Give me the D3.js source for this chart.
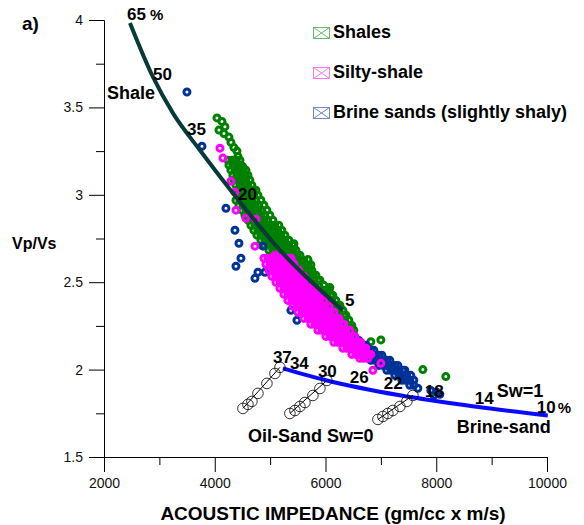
<!DOCTYPE html>
<html>
<head>
<meta charset="utf-8">
<script src="https://cdn.jsdelivr.net/npm/d3@7"></script>
<style>
  body { margin: 0; background: #fff; }
  text { font-family: "Liberation Sans", Arial, Helvetica, sans-serif; }
</style>
</head>
<body>
<div id="chart"></div>
<script>
// series: [acoustic impedance, Vp/Vs]
var shales = [
  [4040,3.44],[4130,3.42],[4184,3.39],[4076,3.37],[4166,3.35],[4256,3.33],[4292,3.30],[4346,3.27],
  [4401,3.25],[4419,3.22],[4509,3.16],
  [4238,3.198],[4310,3.198],[4382,3.198],[4455,3.198],
  [4256,3.170],[4328,3.170],[4400,3.170],[4472,3.170],
  [4292,3.141],[4364,3.141],[4436,3.141],[4508,3.141],[4563,3.141],
  [4328,3.112],[4400,3.112],[4472,3.112],[4544,3.112],[4599,3.112],
  [4346,3.084],[4418,3.084],[4490,3.084],[4562,3.084],[4634,3.084],
  [4382,3.055],[4454,3.055],[4526,3.055],[4598,3.055],[4670,3.055],
  [4400,3.026],[4472,3.026],[4544,3.026],[4616,3.026],[4688,3.026],[4744,3.026],
  [4419,2.998],[4491,2.998],[4563,2.998],[4635,2.998],[4707,2.998],[4780,2.998],
  [4383,2.969],[4455,2.969],[4527,2.969],[4599,2.969],[4671,2.969],[4743,2.969],[4834,2.969],
  [4437,2.940],[4509,2.940],[4581,2.940],[4653,2.940],[4725,2.940],[4797,2.940],[4888,2.940],
  [4491,2.912],[4563,2.912],[4635,2.912],[4707,2.912],[4779,2.912],[4851,2.912],[4942,2.912],
  [4545,2.883],[4617,2.883],[4689,2.883],[4761,2.883],[4833,2.883],[4905,2.883],[4996,2.883],
  [4599,2.855],[4671,2.855],[4743,2.855],[4815,2.855],[4887,2.855],[4959,2.855],[5050,2.855],
  [4653,2.826],[4725,2.826],[4797,2.826],[4869,2.826],[4941,2.826],[5013,2.826],[5085,2.826],[5157,2.826],
  [4707,2.797],[4779,2.797],[4851,2.797],[4923,2.797],[4995,2.797],[5067,2.797],[5139,2.797],[5211,2.797],
  [4762,2.769],[4834,2.769],[4906,2.769],[4978,2.769],[5050,2.769],[5122,2.769],[5194,2.769],[5266,2.769],
  [4834,2.740],[4906,2.740],[4978,2.740],[5050,2.740],[5122,2.740],[5194,2.740],[5266,2.740],[5338,2.740],
  [4906,2.711],[4978,2.711],[5050,2.711],[5122,2.711],[5194,2.711],[5266,2.711],[5338,2.711],[5410,2.711],
  [4978,2.683],[5050,2.683],[5122,2.683],[5194,2.683],[5266,2.683],[5338,2.683],[5410,2.683],[5466,2.683],
  [5050,2.654],[5122,2.654],[5194,2.654],[5266,2.654],[5338,2.654],[5410,2.654],[5482,2.654],[5538,2.654],
  [5123,2.626],[5195,2.626],[5267,2.626],[5339,2.626],[5411,2.626],[5483,2.626],[5555,2.626],[5610,2.626],
  [5195,2.597],[5267,2.597],[5339,2.597],[5411,2.597],[5483,2.597],[5555,2.597],[5627,2.597],[5682,2.597],
  [5267,2.568],[5339,2.568],[5411,2.568],[5483,2.568],[5555,2.568],[5627,2.568],[5699,2.568],[5754,2.568],
  [5339,2.540],[5411,2.540],[5483,2.540],[5555,2.540],[5627,2.540],[5699,2.540],[5771,2.540],[5827,2.540],
  [5430,2.511],[5502,2.511],[5574,2.511],[5646,2.511],[5718,2.511],[5790,2.511],[5862,2.511],[5899,2.511],
  [5520,2.482],[5592,2.482],[5664,2.482],[5736,2.482],[5808,2.482],[5880,2.482],[5971,2.482],
  [5628,2.454],[5700,2.454],[5772,2.454],[5844,2.454],[5916,2.454],[5988,2.454],[6061,2.454],
  [5736,2.425],[5808,2.425],[5880,2.425],[5952,2.425],[6024,2.425],[6096,2.425],[6133,2.425],
  [5827,2.396],[5899,2.396],[5971,2.396],[6043,2.396],[6115,2.396],[6187,2.396],
  [5935,2.368],[6007,2.368],[6079,2.368],[6151,2.368],[6223,2.368],[6260,2.368],
  [6025,2.339],[6097,2.339],[6169,2.339],[6241,2.339],[6314,2.339],
  [6115,2.311],[6187,2.311],[6259,2.311],[6331,2.311],[6368,2.311],
  [6206,2.282],[6278,2.282],[6350,2.282],[6422,2.282],
  [6296,2.253],[6368,2.253],[6440,2.253],[6476,2.253],
  [6386,2.225],[6458,2.225],[6512,2.225],
  [5430,2.72],[5682,2.63],[5736,2.60],[6079,2.47],[6224,2.27],[6404,2.25],
  [6819,2.16],[7000,2.17],[7758,2.00],[8173,1.96]
];

var brineSands = [
  [3498,3.588],[3769,3.278],[4202,2.923],[4365,2.797],[4437,2.723],[4473,2.637],[4383,2.591],
  [4726,2.522],[4780,2.557],[4906,2.557],[4870,2.706],[5375,2.339],[5484,2.282],
  [6115,2.196],[6188,2.196],[6260,2.196],[6332,2.196],[6404,2.196],[6458,2.196],
  [6260,2.167],[6332,2.167],[6404,2.167],[6476,2.167],[6548,2.167],[6603,2.167],
  [6404,2.139],[6476,2.139],[6548,2.139],[6620,2.139],[6692,2.139],[6729,2.139],
  [6531,2.110],[6603,2.110],[6675,2.110],[6747,2.110],[6819,2.110],[6874,2.110],
  [6675,2.082],[6747,2.082],[6819,2.082],[6891,2.082],[6963,2.082],[7018,2.082],
  [6819,2.053],[6891,2.053],[6963,2.053],[7035,2.053],[7107,2.053],[7162,2.053],
  [6964,2.024],[7036,2.024],[7108,2.024],[7180,2.024],[7252,2.024],[7307,2.024],
  [7108,1.996],[7180,1.996],[7252,1.996],[7324,1.996],[7396,1.996],[7433,1.996],
  [7253,1.967],[7325,1.967],[7397,1.967],[7469,1.967],[7541,1.967],
  [7379,1.939],[7451,1.939],[7523,1.939],[7595,1.939],
  [7523,1.910],[7595,1.910],
  [7668,1.893],
  [7902,1.881],[8011,1.870],[7957,1.853],[8065,1.859]
];

var siltyShale = [
  [4094,3.267],[4148,3.21],[4292,3.078],[4365,3.015],[4383,2.912],[4563,2.866],[4744,2.86],
  [4726,2.706],[5087,2.654],[5411,2.61],
  [4888,2.637],[4960,2.637],[5032,2.637],[5104,2.637],[5176,2.637],[5248,2.637],[5320,2.637],[5375,2.637],
  [4924,2.603],[4996,2.603],[5068,2.603],[5140,2.603],[5212,2.603],[5284,2.603],[5356,2.603],[5430,2.603],
  [4978,2.568],[5050,2.568],[5122,2.568],[5194,2.568],[5266,2.568],[5338,2.568],[5410,2.568],[5482,2.568],[5520,2.568],
  [5032,2.534],[5104,2.534],[5176,2.534],[5248,2.534],[5320,2.534],[5392,2.534],[5464,2.534],[5536,2.534],[5610,2.534],
  [5105,2.500],[5177,2.500],[5249,2.500],[5321,2.500],[5393,2.500],[5465,2.500],[5537,2.500],[5609,2.500],[5682,2.500],
  [5177,2.465],[5249,2.465],[5321,2.465],[5393,2.465],[5465,2.465],[5537,2.465],[5609,2.465],[5681,2.465],[5754,2.465],[5791,2.465],
  [5249,2.431],[5321,2.431],[5393,2.431],[5465,2.431],[5537,2.431],[5609,2.431],[5681,2.431],[5753,2.431],[5825,2.431],[5881,2.431],
  [5321,2.396],[5393,2.396],[5465,2.396],[5537,2.396],[5609,2.396],[5681,2.396],[5753,2.396],[5825,2.396],[5897,2.396],[5971,2.396],
  [5411,2.362],[5483,2.362],[5555,2.362],[5627,2.362],[5699,2.362],[5771,2.362],[5843,2.362],[5915,2.362],[5987,2.362],[6061,2.362],
  [5502,2.328],[5574,2.328],[5646,2.328],[5718,2.328],[5790,2.328],[5862,2.328],[5934,2.328],[6006,2.328],[6078,2.328],[6151,2.328],
  [5610,2.293],[5682,2.293],[5754,2.293],[5826,2.293],[5898,2.293],[5970,2.293],[6042,2.293],[6114,2.293],[6186,2.293],[6242,2.293],
  [5736,2.259],[5808,2.259],[5880,2.259],[5952,2.259],[6024,2.259],[6096,2.259],[6168,2.259],[6240,2.259],[6312,2.259],[6332,2.259],
  [5863,2.225],[5935,2.225],[6007,2.225],[6079,2.225],[6151,2.225],[6223,2.225],[6295,2.225],[6367,2.225],[6440,2.225],
  [6007,2.190],[6079,2.190],[6151,2.190],[6223,2.190],[6295,2.190],[6367,2.190],[6439,2.190],[6511,2.190],[6531,2.190],
  [6151,2.156],[6223,2.156],[6295,2.156],[6367,2.156],[6439,2.156],[6511,2.156],[6583,2.156],[6639,2.156],
  [6314,2.122],[6386,2.122],[6458,2.122],[6530,2.122],[6602,2.122],[6674,2.122],[6729,2.122],
  [6476,2.087],[6548,2.087],[6620,2.087],[6692,2.087],[6764,2.087],[6819,2.087],
  [6621,2.065],[6693,2.065],[6765,2.065],
  [6856,1.996],[7000,2.036]
];

// model trends
var shaleTrend = [[2469,3.983],[2884,3.674],[3245,3.467],[3733,3.255],[4329,3.009],[5177,2.683],[6314,2.339]];
var brineTrend = [[5231,2.007],[6025,1.938],[7343,1.853],[8697,1.789],[10014,1.738]];

// oil sand (Sw=0) runs
var oilSandA = [[4509,1.778],[4599,1.801],[4671,1.818],[4780,1.864],[4942,1.921],[5087,1.978],[5177,2.013]];
var oilSandB = [[5357,1.749],[5448,1.766],[5538,1.789],[5628,1.812],[5772,1.852],[5899,1.892],[6025,1.938]];
var oilSandC = [[6946,1.715],[7036,1.732],[7126,1.749],[7216,1.766],[7343,1.789],[7469,1.818],[7578,1.852]];

// annotations: text, AI, Vp/Vs (left/baseline anchor)
var shaleLabels = [["50",2884,3.656],["35",3498,3.341],["20",4419,2.969],["5",6350,2.362]];
var brineLabels = [["37",5050,2.036],["34",5357,2.001],["30",5863,1.955],["26",6440,1.921],
                   ["22",7054,1.887],["18",7794,1.841],["14",8697,1.801]];

var xTicks = [2000, 4000, 6000, 8000, 10000];
var xMinor = [3000, 5000, 7000, 9000];
var yTicks = [1.5, 2, 2.5, 3, 3.5, 4];
var yMinor = [1.75, 2.25, 2.75, 3.25, 3.75];

var legendNames = ["Shales", "Silty-shale", "Brine sands (slightly shaly)"];
var legendColors = ["#008000", "#ff00ff", "#003399"];
var legendIcon = ["#66bb66", "#ff77ff", "#7088cc"];

var width = 584, height = 525;

var svg = d3
  .select("#chart")
  .append("svg")
  .attr("width", width)
  .attr("height", height);

var x = d3.scaleLinear().domain([2000, 10000]).range([104, 547]);
var y = d3.scaleLinear().domain([1.5, 4]).range([457, 20]);

function styleAxis(g) {
  g.select(".domain").attr("stroke", "#000");
  g.selectAll(".tick line").attr("stroke", "#000");
  g.selectAll("text")
    .attr("font-family", '"Liberation Sans", Arial, sans-serif')
    .attr("font-size", 14)
    .attr("fill", "#111");
}

// axes
svg.append("g")
  .attr("transform", "translate(0," + y(1.5) + ")")
  .call(d3.axisBottom(x).tickValues(xTicks).tickSize(15).tickSizeOuter(0).tickPadding(6).tickFormat(d3.format("d")))
  .call(styleAxis);
svg.append("g")
  .attr("transform", "translate(0," + y(1.5) + ")")
  .call(d3.axisBottom(x).tickValues(xMinor).tickSize(8).tickSizeOuter(0).tickFormat(""))
  .call(styleAxis);

svg.append("g")
  .attr("transform", "translate(" + x(2000) + ",0)")
  .call(d3.axisLeft(y).tickValues(yTicks).tickSize(15).tickSizeOuter(0).tickPadding(6).tickFormat(d3.format("")))
  .call(styleAxis);
svg.append("g")
  .attr("transform", "translate(" + x(2000) + ",0)")
  .call(d3.axisLeft(y).tickValues(yMinor).tickSize(8).tickSizeOuter(0).tickFormat(""))
  .call(styleAxis);

// scatter
function drawPoints(data, color) {
  svg.append("g")
    .selectAll("circle")
    .data(data)
    .enter()
    .append("circle")
    .attr("cx", function(d) { return x(d[0]); })
    .attr("cy", function(d) { return y(d[1]); })
    .attr("r", 3)
    .attr("fill", "none")
    .attr("stroke", color)
    .attr("stroke-width", 3);
}
drawPoints(shales, legendColors[0]);
drawPoints(brineSands, legendColors[2]);
drawPoints(siltyShale, legendColors[1]);

var line = d3.line()
  .x(function(d) { return x(d[0]); })
  .y(function(d) { return y(d[1]); })
  .curve(d3.curveMonotoneX);

svg.append("path")
  .datum(shaleTrend)
  .attr("d", line)
  .attr("fill", "none")
  .attr("stroke", "#073a38")
  .attr("stroke-width", 4);

svg.append("path")
  .datum(brineTrend)
  .attr("d", line)
  .attr("fill", "none")
  .attr("stroke", "#0a0aff")
  .attr("stroke-width", 4);

// oil sand runs
[oilSandA, oilSandB, oilSandC].forEach(function(run) {
  svg.append("path")
    .datum([run[0], run[run.length - 1]])
    .attr("d", d3.line().x(function(d) { return x(d[0]); }).y(function(d) { return y(d[1]); }))
    .attr("stroke", "#000")
    .attr("stroke-width", 1);
  svg.append("g")
    .selectAll("circle")
    .data(run)
    .enter()
    .append("circle")
    .attr("cx", function(d) { return x(d[0]); })
    .attr("cy", function(d) { return y(d[1]); })
    .attr("r", 5.3)
    .attr("fill", "none")
    .attr("stroke", "#000")
    .attr("stroke-width", 0.8);
});

// annotation text
function label(t, ax, vv, size) {
  return svg.append("text")
    .attr("x", x(ax))
    .attr("y", y(vv))
    .attr("font-size", size || 17)
    .attr("font-weight", "bold")
    .attr("fill", "#000")
    .text(t);
}

var t65 = label("65", 2415, 4.0);
t65.append("tspan").attr("dx", 4).attr("font-size", 15).text("%");
label("Shale", 2054, 3.548, 18);
shaleLabels.forEach(function(d) { label(d[0], d[1], d[2]); });
brineLabels.forEach(function(d) { label(d[0], d[1], d[2]); });
label("Sw=1", 9094, 1.841, 18);
var t10 = label("10", 9816, 1.749);
t10.append("tspan").attr("dx", 2).attr("font-size", 15).text("%");
label("Brine-sand", 8372, 1.640, 18);
label("Oil-Sand Sw=0", 4599, 1.583, 18);

// legend
var legend = svg.append("g").attr("transform", "translate(313,27)");
legendNames.forEach(function(name, i) {
  var g = legend.append("g").attr("transform", "translate(0," + i * 40 + ")");
  g.append("rect").attr("x", 0.5).attr("y", 0.5).attr("width", 16).attr("height", 11)
    .attr("fill", "#fff").attr("stroke", legendIcon[i]).attr("stroke-width", 1);
  g.append("path").attr("d", "M0.5,0.5L16.5,11.5M16.5,0.5L0.5,11.5")
    .attr("stroke", legendIcon[i]).attr("stroke-width", 1);
  g.append("text").attr("x", 20).attr("y", 11)
    .attr("font-size", 18).attr("font-weight", "bold").attr("fill", "#000")
    .text(name);
});

// titles
svg.append("text").attr("x", 22).attr("y", 30)
  .attr("font-size", 19).attr("font-weight", "bold").text("a)");
svg.append("text").attr("x", 12).attr("y", 249)
  .attr("font-size", 16).attr("font-weight", "bold").text("Vp/Vs");
svg.append("text").attr("x", 333).attr("y", 520).attr("text-anchor", "middle")
  .attr("font-size", 19).attr("font-weight", "bold").text("ACOUSTIC IMPEDANCE (gm/cc x m/s)");
</script>
</body>
</html>
